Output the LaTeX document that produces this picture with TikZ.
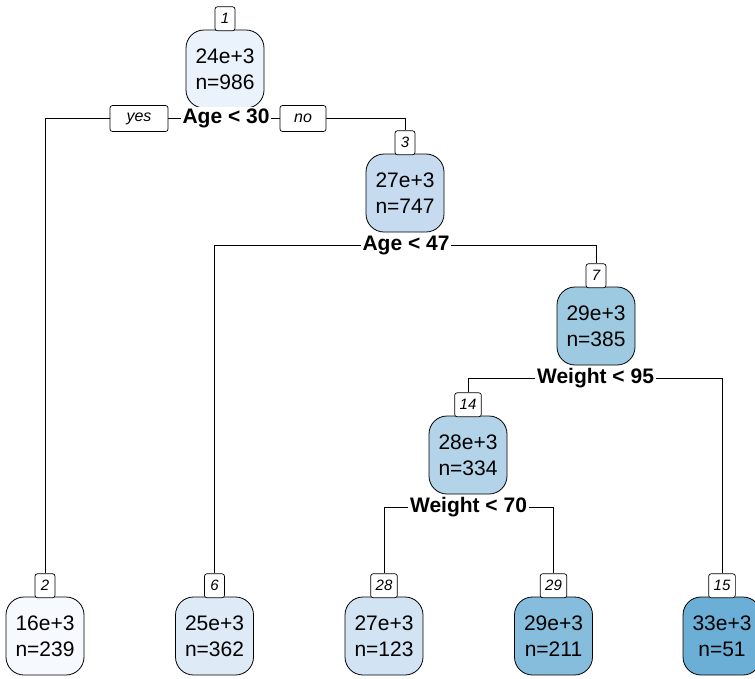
\documentclass[tikz,border=0pt]{standalone}
\usepackage{fontspec}
\setmainfont{Liberation Sans}
\usetikzlibrary{backgrounds}
\definecolor{c1}{HTML}{EAF2FB}
\definecolor{c3}{HTML}{C6DBEF}
\definecolor{c7}{HTML}{9ECAE1}
\definecolor{c14}{HTML}{B3D3E8}
\definecolor{c2}{HTML}{F6FAFF}
\definecolor{c6}{HTML}{DEEBF7}
\definecolor{c28}{HTML}{D2E3F3}
\definecolor{c29}{HTML}{86BCDC}
\definecolor{c15}{HTML}{6BAED6}
\tikzset{
  tbox/.style={draw, line width=0.8pt, rounded corners=18pt, minimum width=78pt, minimum height=78pt,
    align=center, inner sep=0pt, font=\fontsize{21}{26}\selectfont},
  numlab/.style={draw, fill=white, line width=0.7pt, rounded corners=2.5pt, minimum height=24pt,
    minimum width=20pt, inner xsep=5pt, inner ysep=0pt, font=\fontsize{15}{17}\selectfont\itshape, anchor=south, yshift=-1.5pt},
  splitlab/.style={fill=white, inner xsep=1.5pt, inner ysep=1pt, font=\fontsize{21}{24}\selectfont\bfseries},
  yesno/.style={draw, fill=white, line width=0.7pt, rounded corners=2.5pt, minimum height=26pt,
    inner sep=0pt, font=\fontsize{16}{18}\selectfont\itshape},
  conn/.style={line width=0.8pt}
}
\begin{document}
\begin{tikzpicture}[x=1pt,y=-1pt]
\useasboundingbox (0,0) rectangle (755,678);
% internal nodes
\node[tbox, fill=c1] (n1) at (225,69) {24e+3\\n=986};
\node[numlab] (l1) at (n1.north) {1};
\node[tbox, fill=c3] (n3) at (405,193) {27e+3\\n=747};
\node[numlab] (l3) at (n3.north) {3};
\node[tbox, fill=c7] (n7) at (596,326) {29e+3\\n=385};
\node[numlab] (l7) at (n7.north) {7};
\node[tbox, fill=c14] (n14) at (468,455) {28e+3\\n=334};
\node[numlab] (l14) at (n14.north) {14};
% leaves
\node[tbox, fill=c2] (n2) at (45,636) {16e+3\\n=239};
\node[numlab] (l2) at (n2.north) {2};
\node[tbox, fill=c6] (n6) at (214.5,636) {25e+3\\n=362};
\node[numlab] (l6) at (n6.north) {6};
\node[tbox, fill=c28] (n28) at (384,636) {27e+3\\n=123};
\node[numlab] (l28) at (n28.north) {28};
\node[tbox, fill=c29] (n29) at (553.5,636) {29e+3\\n=211};
\node[numlab] (l29) at (n29.north) {29};
\node[tbox, fill=c15] (n15) at (722,636) {33e+3\\n=51};
\node[numlab] (l15) at (n15.north) {15};
% split labels
\node[splitlab] (s1) at (226,118) {Age < 30};
\node[splitlab] (s3) at (406,245) {Age < 47};
\node[splitlab] (s7) at (595.5,378) {Weight < 95};
\node[splitlab] (s14) at (468.5,507) {Weight < 70};
\node[yesno, minimum width=58pt] (yes) at (139,118.5) {yes};
\node[yesno, minimum width=46pt] (no) at (303,118.5) {no};
% connectors
\begin{scope}[on background layer]
\draw[conn] (s1) -| (l2.north);
\draw[conn] (s1) -| (l3.north);
\draw[conn] (s3) -| (l6.north);
\draw[conn] (s3) -| (l7.north);
\draw[conn] (s7) -| (l14.north);
\draw[conn] (s7) -| (l15.north);
\draw[conn] (s14) -| (l28.north);
\draw[conn] (s14) -| (l29.north);
\end{scope}
\end{tikzpicture}
\end{document}
